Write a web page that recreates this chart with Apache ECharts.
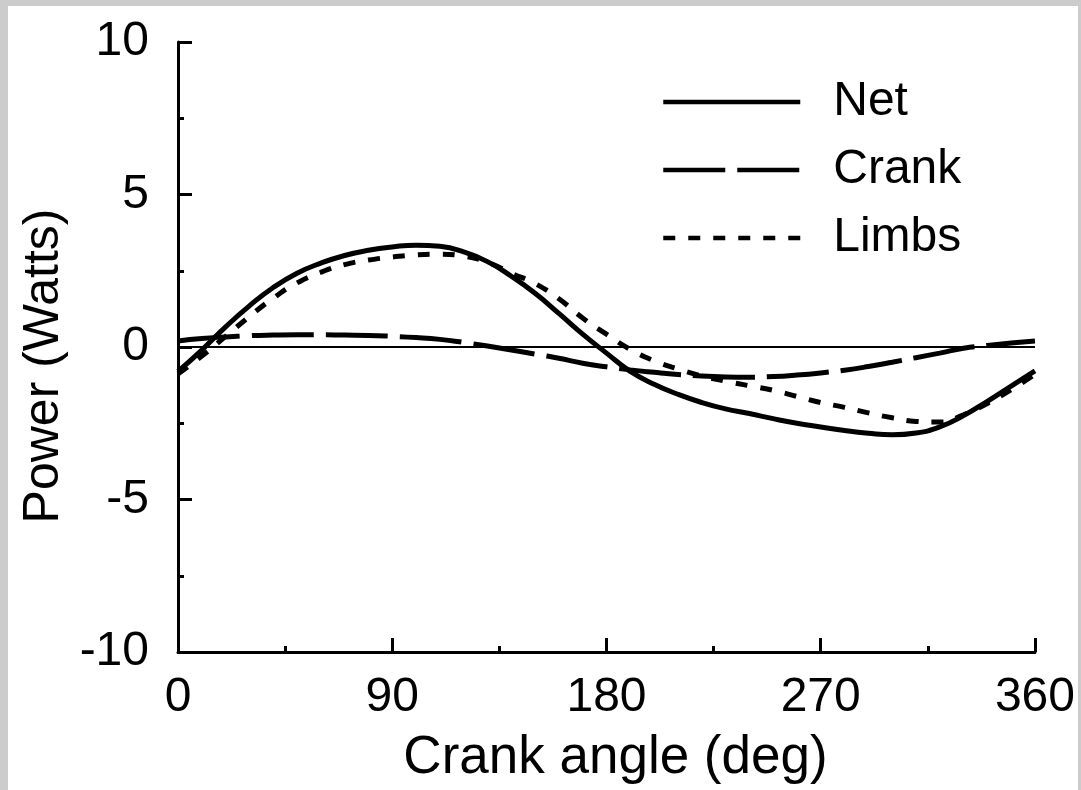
<!DOCTYPE html>
<html>
<head>
<meta charset="utf-8">
<script src="https://cdn.jsdelivr.net/npm/echarts@6/dist/echarts.min.js"></script>
<style>
html,body{margin:0;padding:0;background:#cccccc;width:1081px;height:790px;overflow:hidden;}
#chart{position:absolute;left:8px;top:6px;width:1070px;height:784px;background:#ffffff;}
</style>
</head>
<body>
<div id="chart"></div>
<script>
const angles = [0,10,20,30,40,50,60,70,80,90,100,110,120,130,140,150,160,170,180,190,200,210,220,230,240,250,260,270,280,290,300,310,320,330,340,350,360];
const netPower = [-0.80,-0.10,0.66,1.35,1.95,2.42,2.75,3.00,3.17,3.28,3.34,3.30,3.12,2.80,2.32,1.76,1.10,0.42,-0.20,-0.80,-1.22,-1.55,-1.82,-2.03,-2.18,-2.35,-2.50,-2.62,-2.74,-2.83,-2.88,-2.82,-2.62,-2.25,-1.78,-1.28,-0.78];
const crankPower = [0.20,0.28,0.33,0.37,0.39,0.40,0.40,0.39,0.38,0.35,0.31,0.25,0.15,0.03,-0.10,-0.23,-0.37,-0.53,-0.65,-0.75,-0.83,-0.90,-0.95,-0.98,-0.99,-0.97,-0.92,-0.85,-0.76,-0.64,-0.50,-0.35,-0.20,-0.04,0.05,0.13,0.20];
const limbsPower = [-0.88,-0.30,0.35,1.00,1.60,2.10,2.45,2.70,2.85,2.95,3.02,3.04,2.98,2.78,2.42,2.08,1.58,0.95,0.42,-0.08,-0.45,-0.72,-0.95,-1.12,-1.27,-1.42,-1.62,-1.82,-1.98,-2.16,-2.32,-2.44,-2.46,-2.22,-1.85,-1.40,-0.90];
const seriesNames = ['Net','Crank','Limbs'];
const xTicks = [0,90,180,270,360];
const yTicks = [-10,-5,0,5,10];

const pairs = vals => angles.map((a,i)=>[a, vals[i]]);
const font = 'Liberation Sans, Arial, sans-serif';

const chart = echarts.init(document.getElementById('chart'), null, {renderer:'canvas'});
chart.setOption({
  animation:false,
  backgroundColor:'#ffffff',
  grid:{left:170, right:30, top:36, bottom:125, containLabel:false},
  legend:{
    left:648, top:67, orient:'vertical',
    itemWidth:137, itemHeight:20, itemGap:20,
    data:seriesNames,
    itemStyle:{opacity:0},
    lineStyle:{width:4.5, color:'#000'},
    textStyle:{fontFamily:font, fontSize:48, color:'#000', lineHeight:48, padding:[0,0,0,28]}
  },
  xAxis:{
    type:'value', min:0, max:360, interval:90,
    name:'Crank angle (deg)', nameLocation:'middle', nameGap:80,
    nameTextStyle:{fontFamily:font, fontSize:53, color:'#000', padding:[0,0,0,18]},
    axisLine:{show:true, onZero:false, lineStyle:{color:'#000', width:3}},
    axisTick:{show:true, inside:true, length:14, lineStyle:{color:'#000', width:3}},
    minorTick:{show:true, splitNumber:2, length:6, lineStyle:{color:'#000', width:3}},
    splitLine:{show:false},
    axisLabel:{fontFamily:font, fontSize:48, color:'#000', margin:22,
      formatter: v => xTicks.indexOf(v) >= 0 ? String(v) : ''}
  },
  yAxis:{
    type:'value', min:-10, max:10, interval:5,
    name:'Power (Watts)', nameLocation:'middle', nameGap:107,
    nameTextStyle:{fontFamily:font, fontSize:50, color:'#000', padding:[0,38,0,0]},
    axisLine:{show:true, onZero:false, lineStyle:{color:'#000', width:3}},
    axisTick:{show:true, inside:true, length:14, lineStyle:{color:'#000', width:3}},
    minorTick:{show:true, splitNumber:2, length:6, lineStyle:{color:'#000', width:3}},
    splitLine:{show:false},
    axisLabel:{fontFamily:font, fontSize:48, color:'#000', margin:29,
      formatter: v => yTicks.indexOf(v) >= 0 ? String(v) : ''}
  },
  series:[
    {name:'Net', type:'line', data:pairs(netPower), smooth:0.5, symbol:'none', showSymbol:false,
      lineStyle:{color:'#000', width:5, type:'solid'}, itemStyle:{color:'#000'},
      markLine:{silent:true, symbol:'none', label:{show:false},
        lineStyle:{color:'#000', width:2, type:'solid'}, data:[{yAxis:0}]}},
    {name:'Crank', type:'line', data:pairs(crankPower), smooth:0.5, symbol:'none', showSymbol:false,
      lineStyle:{color:'#000', width:5, type:[62,12]}, itemStyle:{color:'#000'}},
    {name:'Limbs', type:'line', data:pairs(limbsPower), smooth:0.5, symbol:'none', showSymbol:false,
      lineStyle:{color:'#000', width:5, type:[12,13]}, itemStyle:{color:'#000'}}
  ]
});
</script>
</body>
</html>
